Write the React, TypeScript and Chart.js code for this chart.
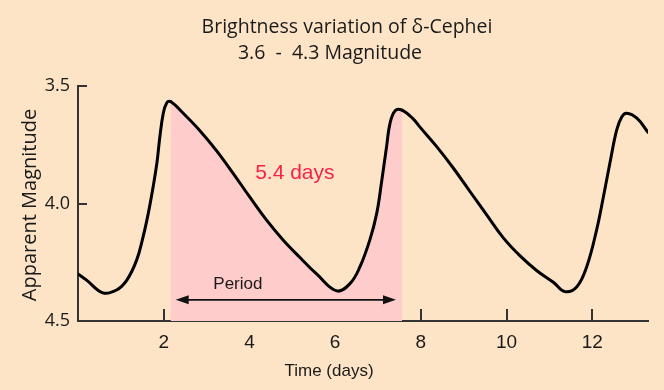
import { useEffect, useRef } from 'react';
import { Chart, registerables } from 'chart.js';

Chart.register(...registerables);

const days = [0, 0.2, 0.58, 0.9, 1.14, 1.37, 1.52, 1.64, 1.74, 1.84, 1.91, 1.99, 2.07, 2.16, 2.45, 2.85, 3.24, 3.62, 4.01, 4.41, 4.78, 5.18, 5.58, 6.04, 6.35, 6.58, 6.81, 6.97, 7.09, 7.2, 7.28, 7.4, 7.56, 7.82, 7.98, 8.37, 8.76, 9.15, 9.54, 9.92, 10.31, 10.7, 11.09, 11.36, 11.64, 11.87, 12.1, 12.26, 12.41, 12.57, 12.69, 12.8, 13.04, 13.3];
const magnitudes = [4.3, 4.326, 4.38, 4.368, 4.326, 4.24, 4.141, 4.042, 3.943, 3.829, 3.716, 3.616, 3.572, 3.566, 3.615, 3.691, 3.777, 3.872, 3.973, 4.073, 4.154, 4.23, 4.302, 4.372, 4.34, 4.269, 4.155, 4.042, 3.9, 3.758, 3.659, 3.605, 3.603, 3.64, 3.675, 3.758, 3.85, 3.95, 4.049, 4.145, 4.222, 4.285, 4.335, 4.375, 4.354, 4.269, 4.113, 3.971, 3.829, 3.687, 3.631, 3.616, 3.637, 3.697];
const xTickValues = [2, 4, 6, 8, 10, 12];
const yTickValues = [3.5, 4.0, 4.5];
const periodStart = 2.16;
const periodEnd = 7.56;
const arrowStart = 2.28;
const arrowEnd = 7.42;
const arrowLevel = 4.41;
const titleLines = ['Brightness variation of δ-Cephei', '3.6  -  4.3 Magnitude'];
const xAxisTitle = 'Time (days)';
const yAxisTitle = 'Apparent Magnitude';
const periodText = '5.4 days';
const periodTextPos = { x: 5.06, y: 3.87 };
const periodWord = 'Period';
const periodWordPos = { x: 3.73, y: 4.343 };

const BG = '#fde4c6';
const PINK = '#ffcccc';
const AXIS = '#333333';
const INK = '#1a1a1a';
const MYRIAD = '"Open Sans", "Noto Sans", sans-serif';
const HELV = '"Liberation Sans", Arial, sans-serif';

export default function App() {
  const ref = useRef<HTMLCanvasElement | null>(null);
  useEffect(() => {
    document.body.style.margin = '0';
    document.body.style.background = BG;
    const canvas = ref.current;
    if (!canvas) return;
    const decor = {
      id: 'decor',
      beforeDatasetsDraw(chart: any) {
        const ctx = chart.ctx;
        const xs = chart.scales.x;
        const ys = chart.scales.y;
        const area = chart.chartArea;
        ctx.save();
        ctx.strokeStyle = AXIS;
        ctx.lineWidth = 2;
        for (const v of xTickValues) {
          const px = Math.round(xs.getPixelForValue(v));
          ctx.beginPath();
          ctx.moveTo(px, area.bottom);
          ctx.lineTo(px, area.bottom - 12);
          ctx.stroke();
        }
        for (const v of yTickValues) {
          const py = Math.round(ys.getPixelForValue(v));
          ctx.beginPath();
          ctx.moveTo(area.left, py);
          ctx.lineTo(area.left + 9, py);
          ctx.stroke();
        }
        ctx.restore();
      },
      afterDatasetsDraw(chart: any) {
        const ctx = chart.ctx;
        const xs = chart.scales.x;
        const ys = chart.scales.y;
        ctx.save();
        ctx.fillStyle = INK;
        ctx.font = `19.5px ${MYRIAD}`;
        ctx.textAlign = 'center';
        ctx.textBaseline = 'middle';
        ctx.fillText(titleLines[0], 347, 27);
        ctx.fillText(titleLines[1], 330, 53);
        ctx.font = `17px ${HELV}`;
        ctx.fillText(xAxisTitle, 329, 371);
        ctx.save();
        ctx.translate(30, 205);
        ctx.rotate(-Math.PI / 2);
        ctx.font = `20px ${MYRIAD}`;
        ctx.fillText(yAxisTitle, 0, 0);
        ctx.restore();
        ctx.fillStyle = '#f5224a';
        ctx.font = `21px ${HELV}`;
        ctx.fillText(periodText, xs.getPixelForValue(periodTextPos.x), ys.getPixelForValue(periodTextPos.y));
        ctx.fillStyle = INK;
        ctx.font = `17px ${HELV}`;
        ctx.fillText(periodWord, xs.getPixelForValue(periodWordPos.x), ys.getPixelForValue(periodWordPos.y));
        const x0 = xs.getPixelForValue(arrowStart);
        const x1 = xs.getPixelForValue(arrowEnd);
        const y = ys.getPixelForValue(arrowLevel);
        ctx.strokeStyle = '#111';
        ctx.lineWidth = 1.6;
        ctx.beginPath();
        ctx.moveTo(x0 + 6, y);
        ctx.lineTo(x1 - 6, y);
        ctx.stroke();
        ctx.fillStyle = '#111';
        ctx.beginPath();
        ctx.moveTo(x0, y);
        ctx.lineTo(x0 + 13, y - 4.5);
        ctx.lineTo(x0 + 13, y + 4.5);
        ctx.closePath();
        ctx.fill();
        ctx.beginPath();
        ctx.moveTo(x1, y);
        ctx.lineTo(x1 - 13, y - 4.5);
        ctx.lineTo(x1 - 13, y + 4.5);
        ctx.closePath();
        ctx.fill();
        ctx.restore();
      },
    };
    const chart = new Chart(canvas, {
      type: 'line',
      data: {
        datasets: [
          {
            data: days.map((d, i) => ({ x: d, y: magnitudes[i] })),
            borderColor: '#000',
            borderWidth: 3,
            borderJoinStyle: 'round',
            borderCapStyle: 'round',
            pointRadius: 0,
            tension: 0.4,
            fill: 'start',
            backgroundColor: 'rgba(0,0,0,0)',
            segment: {
              backgroundColor: (c: any) =>
                c.p0.parsed.x >= periodStart - 1e-9 && c.p1.parsed.x <= periodEnd + 1e-9 ? PINK : 'rgba(0,0,0,0)',
            },
          } as any,
        ],
      },
      options: {
        animation: false,
        responsive: false,
        events: [],
        layout: { padding: { top: 86, right: 16, left: 0, bottom: 0 } },
        scales: {
          x: {
            type: 'linear',
            min: 0,
            max: 13.3,
            grid: { display: false, drawTicks: false, tickLength: 0 },
            border: { display: true, color: AXIS, width: 2 },
            ticks: { color: INK, font: { family: HELV, size: 19 }, padding: 10, maxRotation: 0 },
            afterBuildTicks: (s: any) => {
              s.ticks = xTickValues.map((v) => ({ value: v }));
            },
            afterFit: (s: any) => {
              s.height = 69;
            },
          },
          y: {
            type: 'linear',
            reverse: true,
            min: 3.5,
            max: 4.5,
            grid: { display: false, drawTicks: false, tickLength: 0 },
            border: { display: true, color: AXIS, width: 2 },
            ticks: {
              color: INK,
              font: { family: MYRIAD, size: 18 },
              padding: 8,
              callback: (v: any) => Number(v).toFixed(1),
            },
            afterBuildTicks: (s: any) => {
              s.ticks = yTickValues.map((v) => ({ value: v }));
            },
            afterFit: (s: any) => {
              s.width = 78;
            },
          },
        },
        plugins: { legend: { display: false }, tooltip: { enabled: false }, title: { display: false } },
      },
      plugins: [decor],
    });
    return () => chart.destroy();
  }, []);
  return (
    <div style={{ width: 664, height: 390, background: BG }}>
      <canvas ref={ref} width={664} height={390} style={{ display: 'block' }} />
    </div>
  );
}
